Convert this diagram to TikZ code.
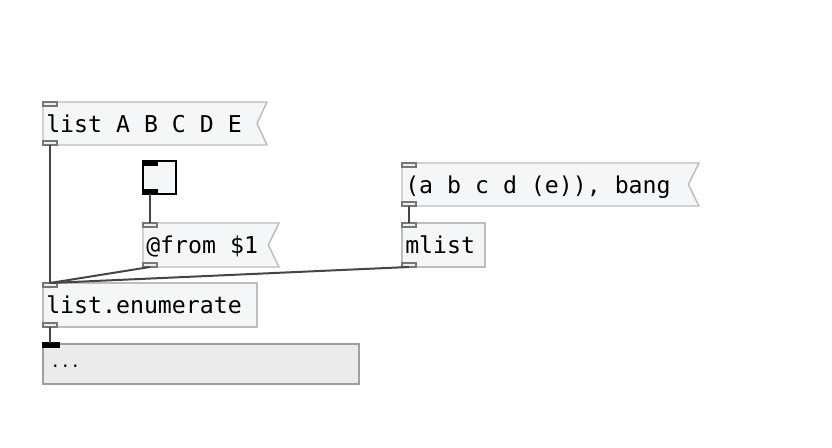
\documentclass[tikz,border=0pt]{standalone}
\usepackage{fontspec}
\setmonofont{DejaVu Sans Mono}
\definecolor{boxgray}{HTML}{BDBDBD}
\definecolor{boxfill}{HTML}{F5F6F8}
\definecolor{iofill}{HTML}{EEEEEE}
\definecolor{iogray}{HTML}{777777}
\definecolor{conngray}{HTML}{454545}
\definecolor{dispfill}{HTML}{EBEBEB}
\definecolor{dispgray}{HTML}{A0A0A0}
\begin{document}
\begin{tikzpicture}[x=0.75pt,y=-0.75pt,
  frame/.style={rectangle, inner sep=0pt, outer sep=0pt, anchor=north west},
  objbox/.style={frame, draw=boxgray, fill=boxfill, line width=1.1pt},
  msgbox/.style={frame, draw=none},
  io/.style={rectangle, inner sep=0pt, outer sep=0pt, minimum width=10.5pt, minimum height=3pt, draw=iogray, fill=iofill, line width=0.8pt},
  iob/.style={io, draw=black, fill=black},
  lbl/.style={inner sep=0pt, anchor=base west, font=\ttfamily\fontsize{17.4}{20}\selectfont},
  conn/.style={draw=conngray, line width=1.5pt}
]
\useasboundingbox (0,0) rectangle (832,448);

% message: list A B C D E
\node[msgbox, minimum width={224*0.75pt}, minimum height={43*0.75pt}] (msgA) at (43,102) {};
\draw[draw=boxgray, fill=boxfill, line width=1.1pt] (msgA.north west) -- (msgA.north east) -- ([xshift=-7.5pt]msgA.east) -- (msgA.south east) -- (msgA.south west) -- cycle;
\node[lbl] (msgAt) at (46,133) {list A B C D E};
\node[io, anchor=north west] (msgAin) at (43,102) {};
\node[io, anchor=south west] (msgAout) at (43,145) {};

% bang
\node[frame, draw=black, fill=boxfill, line width=1.5pt, minimum width={33*0.75pt}, minimum height={33*0.75pt}] (bng) at (143,161) {};
\node[iob, anchor=north west] (bngin) at (143,161) {};
\node[iob, anchor=south west] (bngout) at (143,194) {};

% message: @from $1
\node[msgbox, minimum width={136*0.75pt}, minimum height={44*0.75pt}] (msgF) at (143,223) {};
\draw[draw=boxgray, fill=boxfill, line width=1.1pt] (msgF.north west) -- (msgF.north east) -- ([xshift=-8pt]msgF.east) -- (msgF.south east) -- (msgF.south west) -- cycle;
\node[lbl] (msgFt) at (146,254) {@from \$1};
\node[io, anchor=north west] (msgFin) at (143,223) {};
\node[io, anchor=south west] (msgFout) at (143,267) {};

% message: (a b c d (e)), bang
\node[msgbox, minimum width={297*0.75pt}, minimum height={43*0.75pt}] (msgB) at (402,163) {};
\draw[draw=boxgray, fill=boxfill, line width=1.1pt] (msgB.north west) -- (msgB.north east) -- ([xshift=-8pt]msgB.east) -- (msgB.south east) -- (msgB.south west) -- cycle;
\node[lbl] (msgBt) at (405,194) {(a b c d (e)), bang};
\node[io, anchor=north west] (msgBin) at (402,163) {};
\node[io, anchor=south west] (msgBout) at (402,206) {};

% object: mlist
\node[objbox, minimum width={83*0.75pt}, minimum height={44*0.75pt}] (mlist) at (402,223) {};
\node[lbl] (mlistt) at (405,254) {mlist};
\node[io, anchor=north west] (mlistin) at (402,223) {};
\node[io, anchor=south west] (mlistout) at (402,267) {};

% object: list.enumerate
\node[objbox, minimum width={214*0.75pt}, minimum height={44*0.75pt}] (enum) at (43,283) {};
\node[lbl] (enumt) at (46,314) {list.enumerate};
\node[io, anchor=north west] (enumin) at (43,283) {};
\node[io, anchor=south west] (enumout) at (43,327) {};

% list display
\node[frame, draw=dispgray, fill=dispfill, line width=1.5pt, minimum width={316*0.75pt}, minimum height={40*0.75pt}] (disp) at (43,344) {};
\node[iob, minimum width=12.5pt, anchor=north west] (dispin) at (43,343) {};
\node[inner sep=0pt, anchor=base west, font=\ttfamily\fontsize{12.5}{14}\selectfont] (dispt) at (50,368) {...};

% connections
\draw[conn] (msgAout.south) -- (enumin.north);
\draw[conn] (bngout.south) -- (msgFin.north);
\draw[conn] (msgFout.south) -- (enumin.north);
\draw[conn] (mlistout.south) -- (enumin.north);
\draw[conn] (msgBout.south) -- (mlistin.north);
\draw[conn] (enumout.south) -- (enumout.south |- dispin.north);
\end{tikzpicture}
\end{document}
